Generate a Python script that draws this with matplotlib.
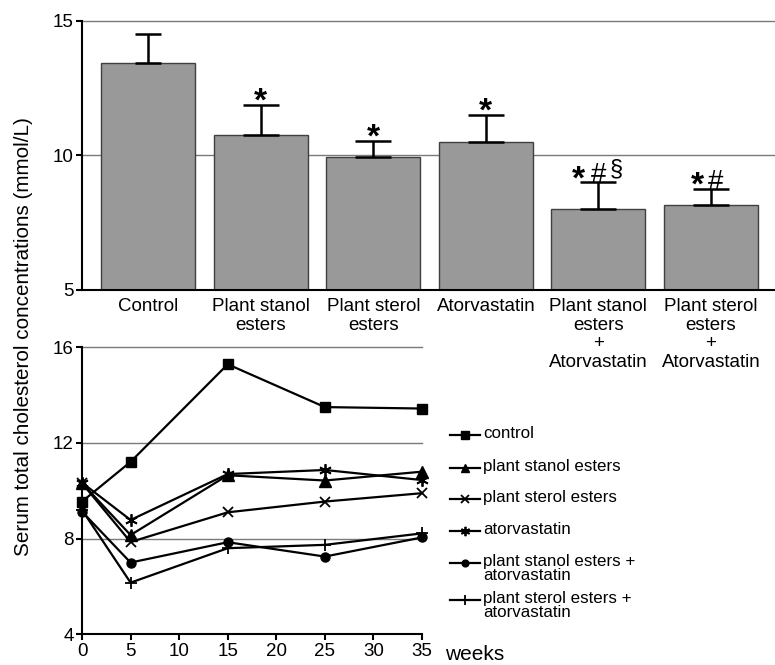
import numpy as np
import matplotlib
matplotlib.use("Agg")
import matplotlib.pyplot as plt
from matplotlib.lines import Line2D

plt.rcParams["font.family"] = ["Liberation Sans", "DejaVu Sans"]

# ── top panel: mean serum cholesterol per group ──────────────────────────────
groups = ["Control", "Plant stanol\nesters", "Plant sterol\nesters", "Atorvastatin",
          "Plant stanol\nesters\n+\nAtorvastatin", "Plant sterol\nesters\n+\nAtorvastatin"]
means = [13.43, 10.77, 9.93, 10.50, 8.01, 8.16]
err_top = [14.52, 11.88, 10.54, 11.50, 9.00, 8.76]
signif = ["", "*", "*", "*", "*#\u00a7", "*#"]

# ── bottom panel: time course ────────────────────────────────────────────────
weeks = [0, 5, 15, 25, 35]
series_names = ["control", "plant stanol esters", "plant sterol esters", "atorvastatin",
                "plant stanol esters +\natorvastatin", "plant sterol esters +\natorvastatin"]
control = [9.55, 11.21, 15.29, 13.50, 13.44]
stanol = [10.32, 8.15, 10.65, 10.43, 10.80]
sterol = [10.32, 7.86, 9.10, 9.55, 9.90]
atorva = [10.34, 8.78, 10.70, 10.87, 10.45]
stanol_ator = [9.13, 7.00, 7.85, 7.25, 8.05]
sterol_ator = [9.20, 6.16, 7.60, 7.74, 8.22]

W, H = 775, 665
PX = 0.72  # points per pixel at dpi 100
fig = plt.figure(figsize=(W / 100, H / 100), dpi=100)

BAR_FILL = "#999999"
GRID = "#7a7a7a"

# top panel
ax1 = fig.add_axes([82 / W, 1 - 290 / H, 1 - 82 / W, (290 - 20.7) / H])
x = np.arange(len(groups))
ax1.bar(x, np.array(means) - 5, bottom=5, width=0.835, color=BAR_FILL,
        edgecolor="#404040", linewidth=1.0, zorder=2)
caps = [9.5, 13, 13, 13, 13, 13]
for i in range(len(groups)):
    ax1.errorbar(x[i], means[i], yerr=[[0], [err_top[i] - means[i]]], fmt="none",
                 ecolor="black", elinewidth=1.8, capsize=caps[i], capthick=1.8, zorder=3)

# significance marks: bold asterisk, thin # and section sign
sym_style = {"*": dict(fontsize=24, fontweight="bold", dy=-6.0),
             "#": dict(fontsize=20, fontweight="normal", dy=0.0),
             "\u00a7": dict(fontsize=17, fontweight="normal", dy=6.5)}
sym_dx = {"*": [0], "*#": [-13.5, 5], "*#\u00a7": [-19.5, 0, 17.5]}
for i, marks in enumerate(signif):
    if not marks:
        continue
    for ch, dx in zip(marks, sym_dx[marks]):
        st = sym_style[ch]
        ax1.annotate(ch, (x[i], err_top[i]), xytext=(dx * PX, st["dy"] * PX),
                     textcoords="offset points", ha="center", va="baseline",
                     fontsize=st["fontsize"], fontweight=st["fontweight"], zorder=4)

ax1.set_xlim(-0.59, 5.57)
ax1.set_ylim(5, 15)
ax1.set_yticks([5, 10, 15])
for yv in [10, 15]:
    ax1.axhline(yv, color=GRID, linewidth=1.0, zorder=1, clip_on=False)
ax1.set_xticks(x)
ax1.set_xticklabels(groups, linespacing=1.12)
ax1.tick_params(axis="x", length=0, pad=6, labelsize=13.5)
ax1.tick_params(axis="y", length=4, width=1.5, pad=2, labelsize=13.5)
for s in ["top", "right"]:
    ax1.spines[s].set_visible(False)
for s in ["left", "bottom"]:
    ax1.spines[s].set_linewidth(1.5)

# bottom panel
ax2 = fig.add_axes([82 / W, 1 - 634.3 / H, (422 - 82) / W, (634.3 - 347.3) / H])
for yv in [8, 12, 16]:
    ax2.axhline(yv, color=GRID, linewidth=1.0, zorder=1, clip_on=False)

styles = [
    dict(marker="s", ms=7.5),
    dict(marker="^", ms=8),
    dict(marker="x", ms=7.5, mew=1.3),
    dict(marker=(6, 2, 0), ms=9, mew=1.3),
    dict(marker="o", ms=6.5),
    dict(marker="+", ms=9, mew=1.3),
]
all_series = [control, stanol, sterol, atorva, stanol_ator, sterol_ator]
for vals, st in zip(all_series, styles):
    ax2.plot(weeks, vals, color="black", linewidth=1.6, mfc="black", mec="black",
             clip_on=False, zorder=3, **st)

ax2.set_xlim(0, 35)
ax2.set_ylim(4, 16)
ax2.set_xticks(range(0, 36, 5))
ax2.set_yticks([4, 8, 12, 16])
ax2.tick_params(length=4, width=1.5, pad=2, labelsize=13.5)
for s in ["top", "right"]:
    ax2.spines[s].set_visible(False)
for s in ["left", "bottom"]:
    ax2.spines[s].set_linewidth(1.5)

fig.text(445 / W, 1 - 655 / H, "weeks", fontsize=15, va="center", ha="left")
fig.text(24 / W, 1 - 337 / H, "Serum total cholesterol concentrations (mmol/L)",
         rotation=90, fontsize=14.9, ha="center", va="center")

# legend, laid out by hand
leg_y = [435, 467.5, 499, 531, 563, 600]
for name, st, yy in zip(series_names, styles, leg_y):
    st2 = dict(st)
    st2["ms"] = st2["ms"] * 0.75
    fig.add_artist(Line2D([450 / W, 465 / W, 480 / W], [1 - yy / H] * 3,
                          transform=fig.transFigure, color="black", linewidth=1.6,
                          mfc="black", mec="black", markevery=[1], **st2))
    fig.text(483 / W, 1 - (yy - 9) / H, name, fontsize=12.2, va="top", ha="left",
             linespacing=0.95)

fig.savefig("out.png", dpi=100)
